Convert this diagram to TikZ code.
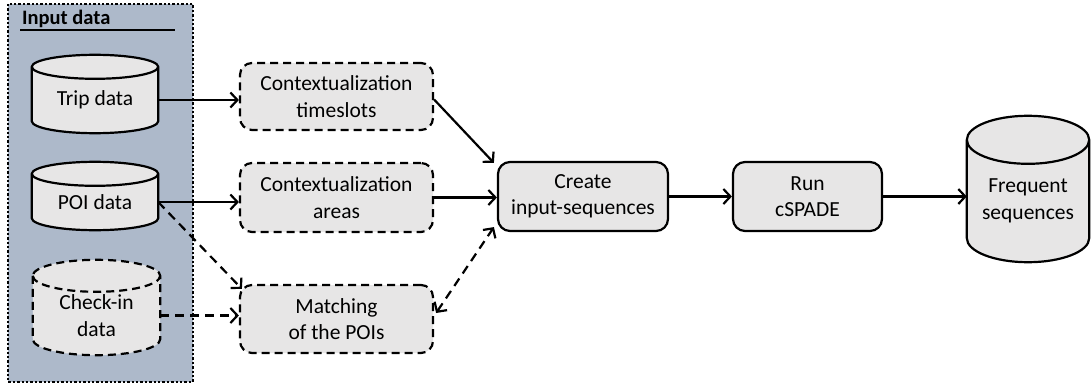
\documentclass[tikz,border=0pt]{standalone}
\usepackage{fontspec}
\setmainfont{Carlito}
\usetikzlibrary{arrows.meta,calc}
\definecolor{boxgray}{HTML}{E7E6E6}
\definecolor{inputbg}{HTML}{ADB9CA}
\pgfdeclarelayer{back}
\pgfdeclarelayer{mid}
\pgfsetlayers{back,mid,main}
\newcommand\dbcyl[3]{%
  \begin{pgfonlayer}{mid}
  \draw[#2] let \p1=(#1.north west), \p2=(#1.south east), \n1={(\x2-\x1)/2} in
    (\x1,\y1) -- (\x1,\y2+#3) arc[start angle=180,end angle=360,x radius=\n1,y radius=#3]
    -- (\x2,\y1) arc[start angle=0,end angle=180,x radius=\n1,y radius=#3] -- cycle
    (\x1,\y1) arc[start angle=180,end angle=360,x radius=\n1,y radius=#3];
  \end{pgfonlayer}}
\tikzset{
  every node/.style={font=\fontsize{21.5}{26.5}\selectfont, align=center},
  cyltext/.style={draw=none, inner sep=0pt},
  cylsolid/.style={draw=black, fill=boxgray, line width=2.2pt},
  cyldash/.style={draw=black, fill=boxgray, line width=2.2pt, dash pattern=on 8pt off 5pt},
  procbox/.style={draw=black, fill=boxgray, line width=2.2pt, rounded corners=12pt, inner sep=0pt},
  dashbox/.style={procbox, dash pattern=on 8pt off 5pt},
  tipb/.tip={Straight Barb[length=7pt,width=15pt,line width=2.2pt]},
  conn/.style={line width=2.2pt, -tipb},
  dconn/.style={conn, dash pattern=on 9pt off 6pt},
}
\begin{document}
\begin{tikzpicture}[x=1pt,y=-1pt]
\useasboundingbox (0,0) rectangle (1091,385);
% input data frame
\begin{pgfonlayer}{back}
\draw[fill=inputbg, line width=2.4pt, dotted] (8,4) rectangle (193,382);
\draw[line width=1.3pt] (20,30) -- (175,30);
\end{pgfonlayer}
\node[anchor=base west, font=\fontsize{20.5}{24}\selectfont\bfseries, inner sep=0pt] (title) at (22,25) {Input data};
% cylinders
\node[cyltext, minimum width=126pt, minimum height=66pt] (trip) at (95,100) {Trip data};
\dbcyl{trip}{cylsolid}{12pt}
\node[cyltext, minimum width=126pt, minimum height=56pt] (poi) at (95,202) {POI data};
\dbcyl{poi}{cylsolid}{12pt}
\node[cyltext, minimum width=127pt, minimum height=79pt] (chk) at (96.5,315.5) {Check-in\\data};
\dbcyl{chk}{cyldash}{16pt}
\node[cyltext, minimum width=122pt, minimum height=122pt] (freq) at (1028,201) {Frequent\\sequences};
\dbcyl{freq}{cylsolid}{24pt}
% process boxes
\node[dashbox, minimum width=193pt, minimum height=67pt] (ts) at (336.5,96.5) {Contextualization\\timeslots};
\node[dashbox, minimum width=193pt, minimum height=69pt] (ar) at (336.5,197.5) {Contextualization\\areas};
\node[dashbox, minimum width=193pt, minimum height=68pt] (mt) at (336.5,319) {Matching\\of the POIs};
\node[procbox, minimum width=170pt, minimum height=69pt] (cr) at (583,196.5) {Create\\input-sequences};
\node[procbox, minimum width=149pt, minimum height=69pt] (run) at (807.5,196.5) {Run\\cSPADE};
% connectors
\draw[conn] (trip.east) -- (trip.east -| ts.west);
\draw[conn] (poi.east) -- (poi.east -| ar.west);
\draw[dconn] (poi.east) -- ($(mt.north west)+(3pt,-5pt)$);
\draw[dconn] (chk.east) -- (chk.east -| mt.west);
\draw[conn] ($(ts.east)+(0,3)$) -- ($(cr.north west)+(-3pt,-2pt)$);
\draw[conn] (ar.east) -- (ar.east -| cr.west);
\draw[dconn, tipb-tipb] ($(mt.east)+(2pt,6pt)$) -- ($(cr.south west)+(-3pt,5pt)$);
\draw[conn] (cr.east) -- (run.west);
\draw[conn] (run.east) -- (run.east -| freq.west);
\end{tikzpicture}
\end{document}
